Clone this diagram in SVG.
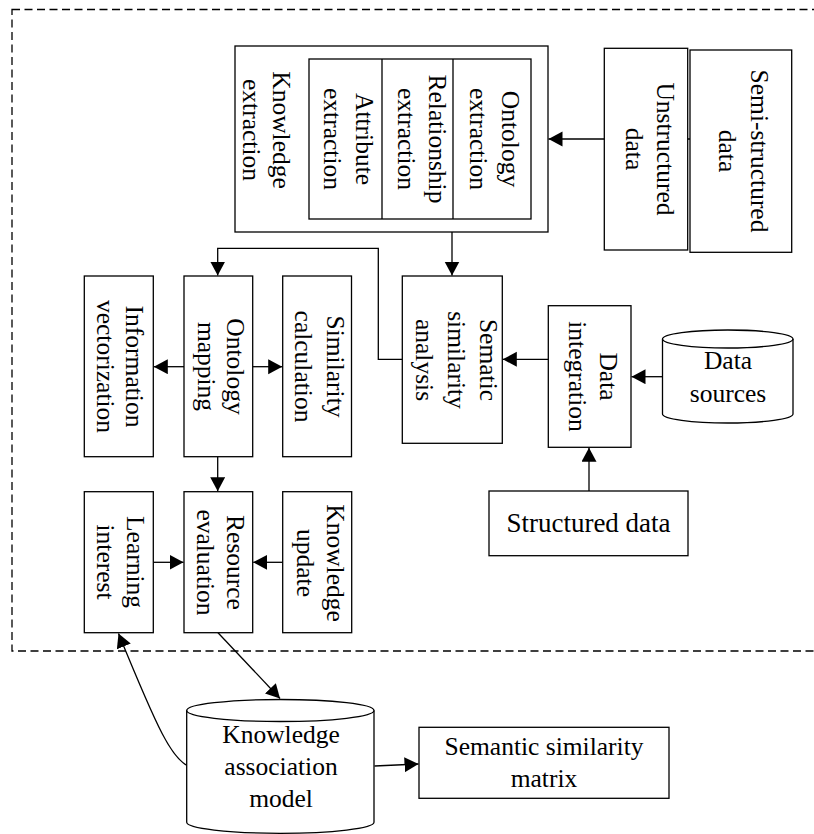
<svg xmlns="http://www.w3.org/2000/svg" width="814" height="834" viewBox="0 0 814 834">
<style>
.box{fill:#fff;stroke:#000;stroke-width:1.3}
.cyl{fill:#fff;stroke:#000;stroke-width:1.3}
.ln{fill:none;stroke:#000;stroke-width:1.3}
.con{fill:none;stroke:#000;stroke-width:1.3;marker-end:url(#ah)}
.t{font-family:"Liberation Serif","Times New Roman",serif;font-size:25.5px;fill:#000;text-anchor:middle}
.dash{fill:none;stroke:#000;stroke-width:1.3;stroke-dasharray:8 4.5}
</style>
<defs>
<marker id="ah" markerUnits="userSpaceOnUse" markerWidth="15" markerHeight="16" refX="14" refY="7.5" orient="auto">
<path d="M0,0 L14,7.5 L0,15 Z" fill="#000"/>
</marker>
</defs>
<rect class="dash" x="12" y="9.5" width="830" height="641.5"/>
<g id="connectors">
<path class="con" d="M690,139 H548.5"/>
<path class="con" d="M452,232 V275.5"/>
<path class="con" d="M402.3,359.3 H378.3 V248.3 H217.7 V275.5"/>
<path class="con" d="M184,366.7 H153.8"/>
<path class="con" d="M252.7,366.7 H282.2"/>
<path class="con" d="M217.7,456.7 V491.2"/>
<path class="con" d="M153.3,562.3 H183.5"/>
<path class="con" d="M282.7,562.3 H253.2"/>
<path class="con" d="M548.3,359.3 H502.8"/>
<path class="con" d="M662.5,376.7 H631.5"/>
<path class="con" d="M589,491 V447.8"/>
<path class="con" d="M218,632.7 L280,698.5"/>
<path class="con" d="M189.5,766.7 C172,760 158,730 118.5,633.5"/>
<path class="con" d="M374.5,766 L418.5,764"/>
</g>
<g id="knowledge-extraction">
<rect class="box" x="235" y="46" width="313" height="186"/>
<text class="t" transform="translate(273,130) rotate(90)"><tspan x="0" y="0">Knowledge</tspan><tspan x="0" y="30">extraction</tspan></text>
</g>
<g id="extraction-cells">
<rect class="box" x="309" y="59" width="222" height="160"/>
<path class="ln" d="M382,59 V219 M453,59 V219"/>
</g>
<g id="ontology-extraction">
<text class="t" transform="translate(502,139) rotate(90)"><tspan x="0" y="0">Ontology</tspan><tspan x="0" y="32">extraction</tspan></text>
</g>
<g id="relationship-extraction">
<text class="t" transform="translate(429,139) rotate(90)"><tspan x="0" y="0">Relationship</tspan><tspan x="0" y="31">extraction</tspan></text>
</g>
<g id="attribute-extraction">
<text class="t" transform="translate(356,139) rotate(90)"><tspan x="0" y="0">Attribute</tspan><tspan x="0" y="32">extraction</tspan></text>
</g>
<g id="unstructured-data">
<rect class="box" x="604.3" y="48.3" width="83.4" height="201.7"/>
<text class="t" transform="translate(657,149) rotate(90)"><tspan x="0" y="0">Unstructured</tspan><tspan x="0" y="31">data</tspan></text>
</g>
<g id="semi-structured-data">
<rect class="box" x="690" y="50" width="101.7" height="202.3"/>
<text class="t" transform="translate(751,151) rotate(90)"><tspan x="0" y="0">Semi-structured</tspan><tspan x="0" y="32">data</tspan></text>
</g>
<g id="information-vectorization">
<rect class="box" x="84.3" y="276" width="69" height="180.7"/>
<text class="t" transform="translate(126,366.5) rotate(90)"><tspan x="0" y="0">Information</tspan><tspan x="0" y="29">vectorization</tspan></text>
</g>
<g id="ontology-mapping">
<rect class="box" x="184" y="276" width="68.7" height="180.7"/>
<text class="t" transform="translate(227,366.5) rotate(90)"><tspan x="0" y="0">Ontology</tspan><tspan x="0" y="29">mapping</tspan></text>
</g>
<g id="similarity-calculation">
<rect class="box" x="282.7" y="276" width="68.8" height="180.7"/>
<text class="t" transform="translate(327,366.5) rotate(90)"><tspan x="0" y="0">Similarity</tspan><tspan x="0" y="32">calculation</tspan></text>
</g>
<g id="sematic-similarity-analysis">
<rect class="box" x="402.3" y="276" width="100" height="167.3"/>
<text class="t" transform="translate(480,360) rotate(90)"><tspan x="0" y="0">Sematic</tspan><tspan x="0" y="32">similarity</tspan><tspan x="0" y="64">analysis</tspan></text>
</g>
<g id="data-integration">
<rect class="box" x="548.3" y="305.7" width="82.7" height="141.6"/>
<text class="t" transform="translate(600,376.5) rotate(90)"><tspan x="0" y="0">Data</tspan><tspan x="0" y="31.5">integration</tspan></text>
</g>
<g id="data-sources">
<path class="cyl" d="M662.5,339 A65.25,9 0 0,1 793,339 L793,414 A65.25,9 0 0,1 662.5,414 Z"/>
<path class="ln" d="M662.5,339 A65.25,9 0 0,0 793,339"/>
<text class="t" x="728" y="369.3">Data</text>
<text class="t" x="728" y="401.7">sources</text>
</g>
<g id="structured-data">
<rect class="box" x="489" y="491" width="199" height="64.7"/>
<text class="t" x="588.5" y="532" style="font-size:27px">Structured data</text>
</g>
<g id="learning-interest">
<rect class="box" x="84.3" y="491.7" width="69" height="141"/>
<text class="t" transform="translate(127,562) rotate(90)"><tspan x="0" y="0">Learning</tspan><tspan x="0" y="30">interest</tspan></text>
</g>
<g id="resource-evaluation">
<rect class="box" x="184" y="491.7" width="68.7" height="141"/>
<text class="t" transform="translate(227,562.5) rotate(90)"><tspan x="0" y="0">Resource</tspan><tspan x="0" y="30.5">evaluation</tspan></text>
</g>
<g id="knowledge-update">
<rect class="box" x="282.7" y="491.7" width="69" height="141"/>
<text class="t" transform="translate(327,563) rotate(90)"><tspan x="0" y="0">Knowledge</tspan><tspan x="0" y="30.5">update</tspan></text>
</g>
<g id="knowledge-association-model">
<path class="cyl" d="M186.7,710.5 A93.65,11 0 0,1 374,710.5 L374,822.3 A93.65,11 0 0,1 186.7,822.3 Z"/>
<path class="ln" d="M186.7,710.5 A93.65,11 0 0,0 374,710.5"/>
<text class="t" x="281" y="743.3">Knowledge</text>
<text class="t" x="281" y="775">association</text>
<text class="t" x="281" y="806.7">model</text>
</g>
<g id="semantic-similarity-matrix">
<rect class="box" x="419" y="727.3" width="250" height="71"/>
<text class="t" x="544" y="755">Semantic similarity</text>
<text class="t" x="544" y="786.7">matrix</text>
</g>
</svg>
